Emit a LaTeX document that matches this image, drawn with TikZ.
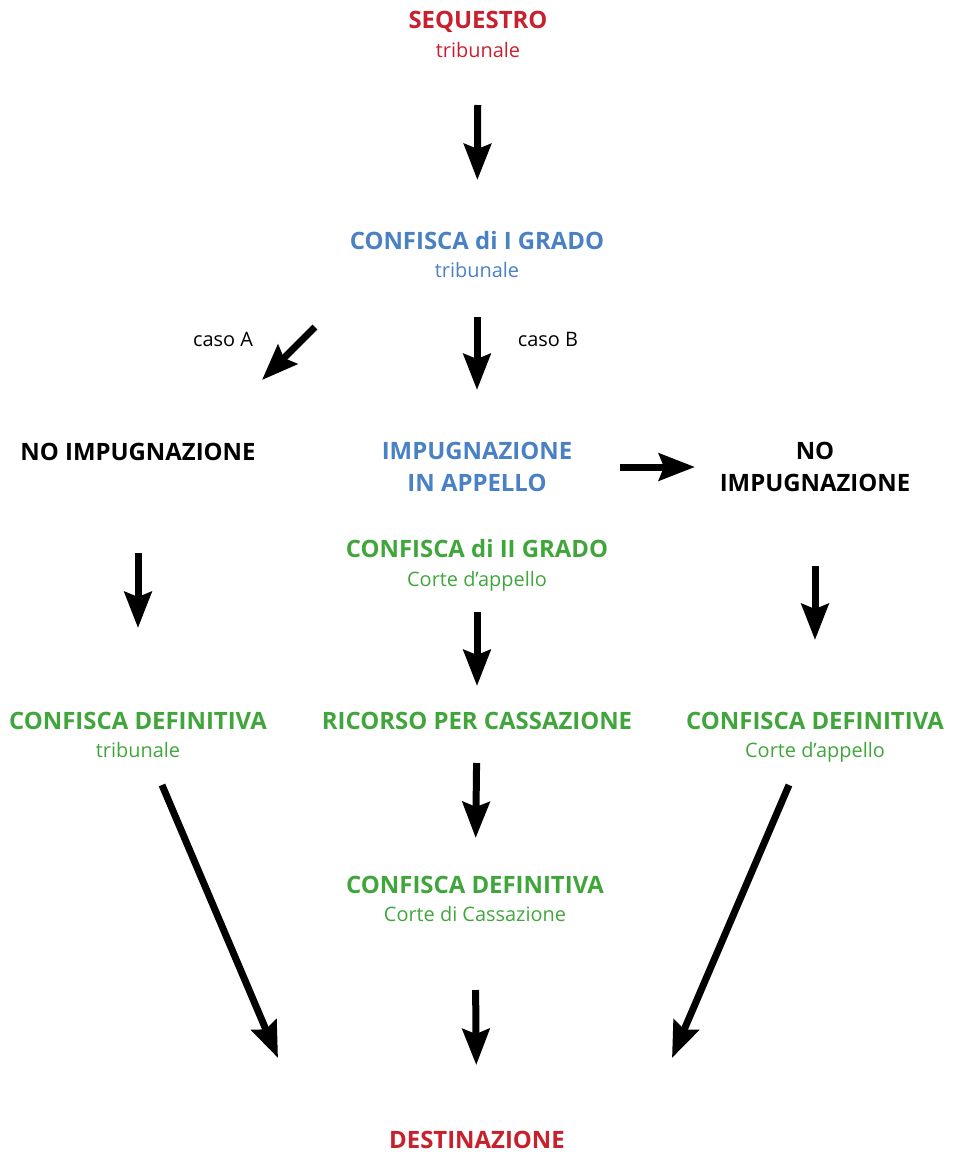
\documentclass[tikz,border=0pt]{standalone}
\usepackage{fontspec}
\setmainfont{Open Sans}
\usetikzlibrary{arrows.meta}
\definecolor{seqred}{RGB}{200,32,44}
\definecolor{gradoblue}{RGB}{74,128,196}
\definecolor{defgreen}{RGB}{64,166,59}
\tikzset{
  head-node/.style  = {anchor=base, inner sep=0pt, font=\fontsize{24}{32}\selectfont\bfseries},
  sub-node/.style   = {anchor=base, inner sep=0pt, font=\fontsize{20}{26}\selectfont},
  case-node/.style  = {anchor=base, inner sep=0pt, font=\fontsize{20}{26}\selectfont},
  two-node/.style   = {align=center, inner sep=0pt, font=\fontsize{24}{32}\selectfont\bfseries},
  big-arrow/.style  = {line width=7bp, -{Stealth[length=36bp, width=27bp, inset=5bp]}},
}
\begin{document}
\begin{tikzpicture}
  [
    x = 1bp,
    y = -1bp,
  ]
  \useasboundingbox (0,0) rectangle (953,1152);
  % nodes
  \node [head-node, seqred] (seq) at (478,28) {SEQUESTRO};
  \node [sub-node, seqred] (seqsub) at ([yshift=-29bp]seq.base) {tribunale};
  \node [head-node, gradoblue] (conf1) at (477,249) {CONFISCA di I GRADO};
  \node [sub-node, gradoblue] (conf1sub) at ([yshift=-28bp]conf1.base) {tribunale};
  \node [case-node] (casoA) at (223,346) {caso A};
  \node [case-node] (casoB) at (548,346) {caso B};
  \node [head-node] (nil) at (138,460) {NO IMPUGNAZIONE};
  \node [two-node, gradoblue] (imp) at (477,467) {IMPUGNAZIONE\\IN APPELLO};
  \node [two-node] (nor) at (815,467) {NO\\IMPUGNAZIONE};
  \node [head-node, defgreen] (conf2) at (477,557) {CONFISCA di II GRADO};
  \node [sub-node, defgreen] (conf2sub) at ([yshift=-29bp]conf2.base) {Corte d’appello};
  \node [head-node, defgreen] (cdl) at (138,729) {CONFISCA DEFINITIVA};
  \node [sub-node, defgreen] (cdlsub) at ([yshift=-28bp]cdl.base) {tribunale};
  \node [head-node, defgreen] (ric) at (477,729) {RICORSO PER CASSAZIONE};
  \node [head-node, defgreen] (cdr) at (815,729) {CONFISCA DEFINITIVA};
  \node [sub-node, defgreen] (cdrsub) at ([yshift=-28bp]cdr.base) {Corte d’appello};
  \node [head-node, defgreen] (cdm) at (475,893) {CONFISCA DEFINITIVA};
  \node [sub-node, defgreen] (cdmsub) at ([yshift=-28bp]cdm.base) {Corte di Cassazione};
  \node [head-node, seqred] (dest) at (477,1148) {DESTINAZIONE};
  % arrows
  \draw [big-arrow, shorten <=48bp, shorten >=69bp] (seqsub.base) -- (conf1.base);
  \draw [big-arrow] ([shift={(-162,50)}]conf1sub.base) -- ([shift={(124,-80)}]nil.base);
  \draw [big-arrow, shorten <=40bp, shorten >=77bp] (conf1sub.base) -- (imp.center);
  \draw [big-arrow, shorten <=143bp, shorten >=120bp] (imp.center) -- (nor.center);
  \draw [big-arrow, shorten <=93bp, shorten >=101bp] (nil.base) -- (cdl.base);
  \draw [big-arrow, shorten <=26bp, shorten >=43bp] (conf2sub.base) -- (ric.base);
  \draw [big-arrow, shorten <=99bp, shorten >=89bp] (nor.center) -- (cdr.base);
  \draw [big-arrow, shorten <=34bp, shorten >=55bp] (ric.base) -- (cdm.base);
  \draw [big-arrow, shorten <=69bp, shorten >=83bp] (cdmsub.base) -- (dest.base);
  \draw [big-arrow] ([shift={(24,28)}]cdlsub.base) -- ([shift={(-199,-90)}]dest.base);
  \draw [big-arrow] ([shift={(-26,28)}]cdrsub.base) -- ([shift={(195,-90)}]dest.base);
\end{tikzpicture}
\end{document}
